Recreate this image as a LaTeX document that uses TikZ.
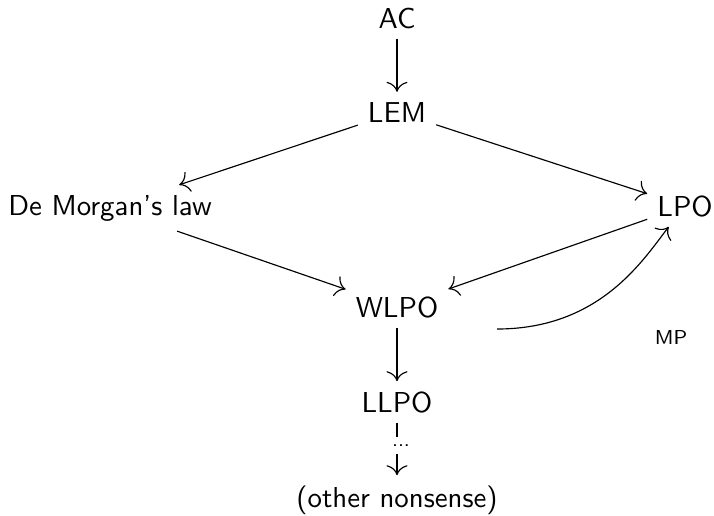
\documentclass[tikz,border=0pt]{standalone}
\usetikzlibrary{arrows.meta}
\begin{document}
\begin{tikzpicture}[x=0.347pt,y=-0.347pt,
  every node/.style={font=\sffamily},
  lbl/.style={anchor=base},
  arr/.style={-{To[scale=1.4]}}]
\useasboundingbox (0,0) rectangle (714,515);
\node[lbl] (AC) at (397,28) {AC};
\node[lbl] (LEM) at (397,122) {LEM};
\node[lbl] (DM) at (110,215) {De Morgan's law};
\node[lbl] (LPO) at (685,216) {LPO};
\node[lbl] (WLPO) at (397,317) {WLPO};
\node[lbl] (LLPO) at (397,412) {LLPO};
\node[lbl] (ON) at (397,507) {(other nonsense)};
\node[lbl,font=\sffamily\scriptsize] (MP) at (671,344) {MP};
\node[font=\sffamily\scriptsize, inner xsep=0pt, inner ysep=2.1pt, text height=1pt, text depth=0pt] (dots) at (401,445.5) {...};
\coordinate (mps) at (497,329);
\draw[arr] (AC) -- (LEM);
\draw[arr] (LEM) -- (DM);
\draw[arr] (LEM) -- (LPO);
\draw[arr] (DM) -- (WLPO);
\draw[arr] (LPO) -- (WLPO);
\draw[arr] (mps) to[out=0,in=-128,out distance=36pt,in distance=14pt] (LPO);
\draw[arr] (WLPO) -- (LLPO);
\draw (LLPO) -- (LLPO |- dots.north);
\draw[arr] (ON |- dots.south) -- (ON);
\end{tikzpicture}
\end{document}
